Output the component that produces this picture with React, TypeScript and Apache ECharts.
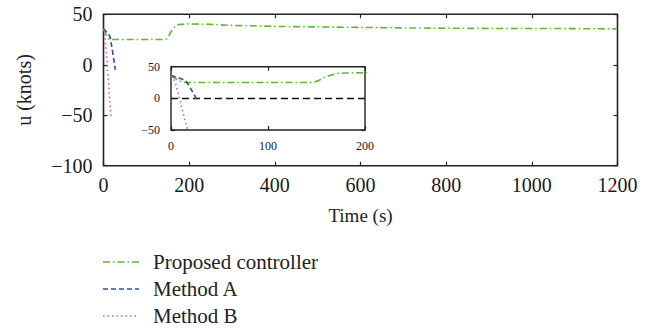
import React, { useEffect, useRef } from "react";
import * as echarts from "echarts";

// Time (s) and surge speed u (knots)
const proposedT = [0, 3, 7, 11, 14, 30, 60, 100, 140, 147, 152, 158, 165, 172, 180, 200, 250, 300, 400, 500, 600, 700, 800, 900, 1000, 1100, 1200];
const proposedU = [35, 33, 29, 26, 25, 25, 25, 25, 25, 25.5, 28, 33, 37, 39.5, 40, 40.5, 40, 39, 38, 37.5, 37, 36.5, 36.2, 36, 36, 35.8, 35.5];

const methodAT = [0, 4, 8, 12, 15, 17, 20, 23, 26, 27.5];
const methodAU = [36, 34, 32, 30, 28, 24, 16, 8, 0, -5];

const methodBT = [0, 2, 4, 6, 8, 10, 12, 14, 16, 18];
const methodBU = [35, 32, 27, 16, 4, -8, -20, -32, -43, -53];

const mainXTicks = { min: 0, max: 1200, interval: 200 };
const mainYTicks = { min: -100, max: 50, interval: 50 };
const insetXTicks = { min: 0, max: 200, interval: 100 };
const insetYTicks = { min: -50, max: 50, interval: 50 };
const referenceLevel = 0;

const seriesNames = ["Proposed controller", "Method A", "Method B"];

const pairs = (t: number[], u: number[]) => t.map((x, i) => [x, u[i]]);
const fmt = (v: number) => (v < 0 ? "\u2212" + Math.abs(v) : String(v));

const FONT = "Liberation Serif";
const INK = "#222";
const GREEN = "#5cb82e";
const BLUE = "#2c4cb0";
const PINK = "#cc5cc0";

export default function App() {
  const ref = useRef<HTMLDivElement>(null);
  useEffect(() => {
    if (!ref.current) return;
    const chart = echarts.init(ref.current, undefined, { renderer: "svg" });

    const dashes: any[] = [[7, 3, 1.5, 3], [5, 3], [1.5, 3]];
    const colors = [GREEN, BLUE, PINK];
    const lineStyles = colors.map((c, i) => ({ color: c, width: 1.6, type: dashes[i] }));
    const data = [
      pairs(proposedT, proposedU),
      pairs(methodAT, methodAU),
      pairs(methodBT, methodBU),
    ];

    const tick = { show: true, inside: true, length: 4, lineStyle: { color: INK, width: 1.2 } };
    const mkAxis = (gridIndex: number, ticks: any, pos: string, fontSize: number, margin: number, labels: boolean, extra: any = {}) => ({
      type: "value",
      gridIndex,
      position: pos,
      ...ticks,
      axisLine: { show: false, onZero: false },
      axisTick: tick,
      axisLabel: {
        show: labels,
        margin,
        formatter: fmt,
        fontFamily: FONT,
        fontSize,
        color: "#1a1a1a",
      },
      splitLine: { show: false },
      ...extra,
    });

    const mainSeries = seriesNames.map((name, i) => ({
      type: "line",
      name,
      xAxisIndex: 0,
      yAxisIndex: 0,
      data: data[i],
      showSymbol: false,
      symbol: "none",
      lineStyle: lineStyles[i],
      z: 3 + i,
    }));
    const insetSeries = seriesNames.map((name, i) => ({
      type: "line",
      name,
      xAxisIndex: 2,
      yAxisIndex: 2,
      data: data[i],
      showSymbol: false,
      symbol: "none",
      clip: true,
      lineStyle: lineStyles[i],
      z: 6 + i,
      ...(i === 0
        ? {
            markLine: {
              silent: true,
              symbol: "none",
              label: { show: false },
              lineStyle: { color: "#111", width: 1.3, type: [7, 4] as any },
              data: [{ yAxis: referenceLevel }],
            },
          }
        : {}),
    }));

    const legendTop = 262;
    const legendStep = 27;
    const legendGraphic: any[] = [];
    seriesNames.forEach((name, i) => {
      const y = legendTop + i * legendStep;
      legendGraphic.push({
        type: "line",
        shape: { x1: 103, y1: y, x2: 139, y2: y },
        style: { stroke: colors[i], lineWidth: 1.6, lineDash: dashes[i] },
      });
      legendGraphic.push({
        type: "text",
        x: 153,
        y,
        style: { text: name, fill: INK, font: `21px ${FONT}`, verticalAlign: "middle" },
      });
    });

    chart.setOption({
      animation: false,
      backgroundColor: "#fff",
      textStyle: { fontFamily: FONT },
      grid: [
        { left: 103.5, top: 14.3, width: 514, height: 151.4, show: true, borderColor: INK, borderWidth: 1.6, backgroundColor: "transparent" },
        { left: 171, top: 66.7, width: 194, height: 63.3, show: true, borderColor: INK, borderWidth: 1.4, backgroundColor: "#fff", z: 5 },
      ],
      xAxis: [
        mkAxis(0, mainXTicks, "bottom", 20, 9, true, {
          name: "Time (s)",
          nameLocation: "middle",
          nameGap: 40,
          nameTextStyle: { color: INK, fontFamily: FONT, fontSize: 19 },
        }),
        mkAxis(0, mainXTicks, "top", 20, 9, false),
        mkAxis(1, insetXTicks, "bottom", 12, 10, true, { z: 6 }),
        mkAxis(1, insetXTicks, "top", 12, 10, false, { z: 6 }),
      ],
      yAxis: [
        mkAxis(0, mainYTicks, "left", 20, 11, true, {
          name: "u (knots)",
          nameLocation: "middle",
          nameGap: 70,
          nameRotate: 90,
          nameTextStyle: { color: INK, fontFamily: FONT, fontSize: 20 },
        }),
        mkAxis(0, mainYTicks, "right", 20, 11, false),
        mkAxis(1, insetYTicks, "left", 12, 11, true, { z: 6 }),
        mkAxis(1, insetYTicks, "right", 12, 11, false, { z: 6 }),
      ],
      graphic: legendGraphic,
      series: [...mainSeries, ...insetSeries],
    } as any);

    return () => chart.dispose();
  }, []);

  return (
    <div
      ref={ref}
      style={{ position: "fixed", left: 0, top: 0, width: 654, height: 332 }}
    />
  );
}
